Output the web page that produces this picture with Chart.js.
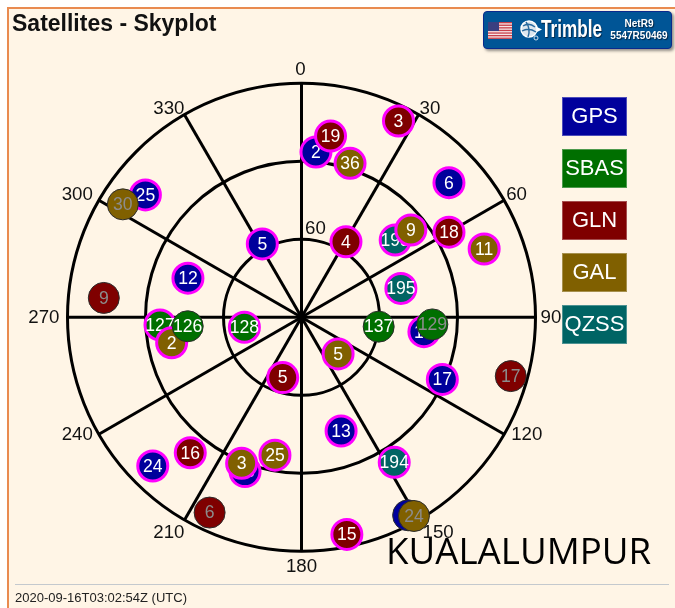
<!DOCTYPE html>
<html><head><meta charset="utf-8">
<style>
html,body{margin:0;padding:0;background:#fff;width:675px;height:608px;overflow:hidden}
#panel{position:absolute;left:7px;top:7px;width:668px;height:601px;box-sizing:border-box;background:#FFF5E6;border-left:2.5px solid #E98B50;border-top:2px solid #E98B50}
canvas{position:absolute;left:0;top:0}
.abs{position:absolute}
#title{left:12px;top:9.5px;font:bold 23px "Liberation Sans",Arial,sans-serif;color:#111;white-space:nowrap}
#badge{left:482.5px;top:11px;width:189px;height:38px;box-sizing:border-box;background:#005596;border:1.5px solid #0A2A8C;border-radius:4px;box-shadow:2px 2px 3px rgba(60,60,60,.55)}
#trim{left:541px;top:15px;font:bold 24.5px "Liberation Sans",sans-serif;color:#fff;text-shadow:1px 1px 1px #02223f;white-space:nowrap;transform:scaleX(.7);transform-origin:left center}
.net{left:606px;width:66px;text-align:center;font:bold 10px "Liberation Sans",sans-serif;color:#fff;text-shadow:1px 1px 1px #02223f;white-space:nowrap}
.leg{left:562px;width:65px;height:39px;box-sizing:border-box;border:1px solid rgba(255,255,255,.3);color:#fff;text-align:center;font:22px/36px "Liberation Sans",sans-serif}
#site{left:386px;top:526px;font:36.7px "Open Sans",sans-serif;color:#000;white-space:nowrap;line-height:48px}
#hr{left:15px;top:584px;width:654px;height:1px;background:#C4C9CE}
#foot{left:15px;top:590px;font:13px "Liberation Sans",sans-serif;color:#222;white-space:nowrap}
</style></head><body>
<div id="panel"></div>
<canvas id="sky" width="675" height="608"></canvas>
<div class="abs" id="title">Satellites - Skyplot</div>
<div class="abs" id="badge"></div>
<svg class="abs" style="left:488px;top:22px" width="24" height="17" viewBox="0 0 24 17">
<rect width="24" height="17" fill="#F6E6E6"/>
<g fill="#C8404A"><rect y="0" width="24" height="1.3"/><rect y="2.6" width="24" height="1.3"/><rect y="5.2" width="24" height="1.3"/><rect y="7.8" width="24" height="1.3"/><rect y="10.4" width="24" height="1.3"/><rect y="13" width="24" height="1.3"/><rect y="15.6" width="24" height="1.3"/></g>
<rect width="11" height="9" fill="#3A3F80"/></svg>
<svg class="abs" style="left:519px;top:19px" width="24" height="22" viewBox="0 0 24 22">
<circle cx="10" cy="10" r="8" fill="#DDE6EE" stroke="#fff" stroke-width="1.5"/>
<path d="M4 7 Q10 3 16 8 M3 12 Q10 8 17 13 M7 3 Q12 10 9 18" fill="none" stroke="#2A6A9E" stroke-width="1.4"/>
<path d="M18 8 L23 10.5 L18 13Z" fill="#fff"/><circle cx="17" cy="19" r="2" fill="none" stroke="#fff" stroke-width=".8"/></svg>
<div class="abs" id="trim">Trimble</div>
<div class="abs net" style="top:18px">NetR9</div>
<div class="abs net" style="top:30px">5547R50469</div>
<div id="legend"></div>
<div class="abs" id="site">KUALALUMPUR</div>
<div class="abs" id="hr"></div>
<div class="abs" id="foot">2020-09-16T03:02:54Z (UTC)</div>
<script src="https://cdn.jsdelivr.net/npm/chart.js@4/dist/chart.umd.min.js"></script>
<script>
// ---- tick labels and grid values
const azimuthTicks = [0,30,60,90,120,150,180,210,240,270,300,330];
const elevationRings = [0,30,60];
const elevationLabels = [60];
const systems = ['GPS','SBAS','GLN','GAL','QZSS'];
const systemColors = ['#00009C','#006F00','#7F0000','#806000','#006464'];

// ---- tracked satellites (PRN, azimuth deg, elevation deg)
const gpsPrn = ['2','25','5','12','6','17','13','24','28','19'];
const gpsAz  = [5.0,308.1,331.9,289.0,47.6,113.8,160.8,225.0,200.1,96.7];
const gpsEl  = [26.2,13.7,58.0,43.8,13.2,30.8,43.7,9.1,26.8,42.6];
const sbasPrn = ['127','128'];
const sbasAz  = [266.9,260.1];
const sbasEl  = [35.5,67.7];
const glnPrn = ['19','3','4','18','5','16','15'];
const glnAz  = [9.1,26.3,30.5,60.0,197.3,219.4,168.2];
const glnEl  = [19.4,5.8,56.3,24.5,65.7,22.6,4.7];
const qzssPrn = ['193','195','194'];
const qzssAz  = [50.5,73.8,147.4];
const qzssEl  = [43.3,50.2,23.8];
const galPrn = ['36','9','11','5','2','3','25'];
const galAz  = [17.5,51.4,69.5,135.0,258.9,202.3,190.9];
const galEl  = [27.9,36.2,15.0,70.1,39.1,29.3,36.0];

// ---- satellites not used in the solution (no ring)
const gpsFreePrn = ['29'];
const gpsFreeAz  = [151.7];
const gpsFreeEl  = [3.5];
const glnFreePrn = ['9','6','17'];
const glnFreeAz  = [275.6,205.2,105.7];
const glnFreeEl  = [13.6,7.0,6.4];
const sbasLitPrn = ['126','137'];
const sbasLitAz  = [265.5,96.9];
const sbasLitEl  = [46.1,60.1];
const sbasFreePrn = ['129'];
const sbasFreeAz  = [93.1];
const sbasFreeEl  = [39.6];
const galFreePrn = ['30','24'];
const galFreeAz  = [302.3,150.5];
const galFreeEl  = [8.7,2.2];

// ---- legend
systems.forEach((s,i)=>{
  const d=document.createElement('div');
  d.className='abs leg'; d.textContent=s;
  d.style.top=(97+52*i)+'px'; d.style.background=systemColors[i];
  document.getElementById('legend').appendChild(d);
});

const rad = d=>d*Math.PI/180;
const toXY = (az,el)=>({x:(90-el)*Math.sin(rad(az)), y:(90-el)*Math.cos(rad(az))});
function layer(name,prn,az,el,color,tracked,textColor){
  return {label:name,prn,textColor,
    data:prn.map((_,i)=>toXY(az[i],el[i])),
    backgroundColor:color,
    borderColor:tracked?'#FF00FF':'#2b2b2b',
    borderWidth:tracked?3:1,
    pointRadius:tracked?15:15.5,
    pointHoverRadius:tracked?15:15.5,
    showLine:false,clip:false};
}
const WHITE='#FFFFFF', DIM='#8C8C8C';
const layers=[
  layer('GPS',gpsPrn,gpsAz,gpsEl,systemColors[0],true,WHITE),
  layer('SBAS',sbasPrn,sbasAz,sbasEl,systemColors[1],true,WHITE),
  layer('GLN',glnPrn,glnAz,glnEl,systemColors[2],true,WHITE),
  layer('QZSS',qzssPrn,qzssAz,qzssEl,systemColors[4],true,WHITE),
  layer('GAL',galPrn,galAz,galEl,systemColors[3],true,WHITE),
  layer('GPS free',gpsFreePrn,gpsFreeAz,gpsFreeEl,systemColors[0],false,DIM),
  layer('GLN free',glnFreePrn,glnFreeAz,glnFreeEl,systemColors[2],false,DIM),
  layer('SBAS lit',sbasLitPrn,sbasLitAz,sbasLitEl,systemColors[1],false,WHITE),
  layer('SBAS free',sbasFreePrn,sbasFreeAz,sbasFreeEl,systemColors[1],false,DIM),
  layer('GAL free',galFreePrn,galFreeAz,galFreeEl,systemColors[3],false,DIM)
];
layers.forEach((l,i)=>{l.order=layers.length-i;});

const FONT='"Liberation Sans",Arial,sans-serif';
// pixel nudges of each azimuth label away from its point on the outer ring
const tickPlace={0:[-1,-13,'center'],30:[1,-6,'left'],60:[2,-5,'left'],90:[5,1,'left'],120:[7,1,'left'],150:[4,13,'left'],
  180:[0,15.5,'center'],210:[0,13,'right'],240:[-6,1,'right'],270:[-8,1,'right'],300:[-6,-5,'right'],330:[0,-6,'right']};

const skyGrid={id:'skyGrid',
  beforeDatasetsDraw(chart){
    const {ctx,scales:{x,y}}=chart;
    const cx=x.getPixelForValue(0), cy=y.getPixelForValue(0);
    ctx.save();
    ctx.strokeStyle='#000'; ctx.lineWidth=3;
    elevationRings.forEach(el=>{
      ctx.beginPath();
      ctx.arc(cx,cy,x.getPixelForValue(90-el)-cx,0,Math.PI*2);
      ctx.stroke();
    });
    azimuthTicks.forEach(az=>{
      const p=toXY(az,0);
      ctx.beginPath(); ctx.moveTo(cx,cy);
      ctx.lineTo(x.getPixelForValue(p.x),y.getPixelForValue(p.y)); ctx.stroke();
    });
    ctx.fillStyle='#111'; ctx.font='18.7px '+FONT; ctx.textBaseline='middle';
    azimuthTicks.forEach(az=>{
      const p=toXY(az,0), t=tickPlace[az];
      ctx.textAlign=t[2];
      ctx.fillText(String(az),x.getPixelForValue(p.x)+t[0],y.getPixelForValue(p.y)+t[1]);
    });
    ctx.textAlign='left';
    elevationLabels.forEach(el=>{
      ctx.fillText(String(el),cx+3.5,y.getPixelForValue(90-el)-10.5);
    });
    ctx.restore();
  },
  afterDatasetDraw(chart,args){
    const ds=chart.data.datasets[args.index];
    const {ctx,scales:{x,y}}=chart;
    ctx.save();
    ctx.fillStyle=ds.textColor; ctx.font='17.6px '+FONT;
    ctx.textAlign='center'; ctx.textBaseline='middle';
    ds.data.forEach((p,i)=>ctx.fillText(ds.prn[i],x.getPixelForValue(p.x),y.getPixelForValue(p.y)+1));
    ctx.restore();
  }
};

const centerX=301.5, centerY=317.3, pxPerDeg=2.6;
new Chart(document.getElementById('sky'),{
  type:'scatter',
  data:{datasets:layers},
  plugins:[skyGrid],
  options:{
    responsive:false,animation:false,
    layout:{padding:0,autoPadding:false},
    events:[],
    plugins:{legend:{display:false},tooltip:{enabled:false},title:{display:false}},
    scales:{
      x:{type:'linear',display:false,min:-centerX/pxPerDeg,max:(675-centerX)/pxPerDeg},
      y:{type:'linear',display:false,min:-(608-centerY)/pxPerDeg,max:centerY/pxPerDeg}
    }
  }
});
</script>
</body></html>
